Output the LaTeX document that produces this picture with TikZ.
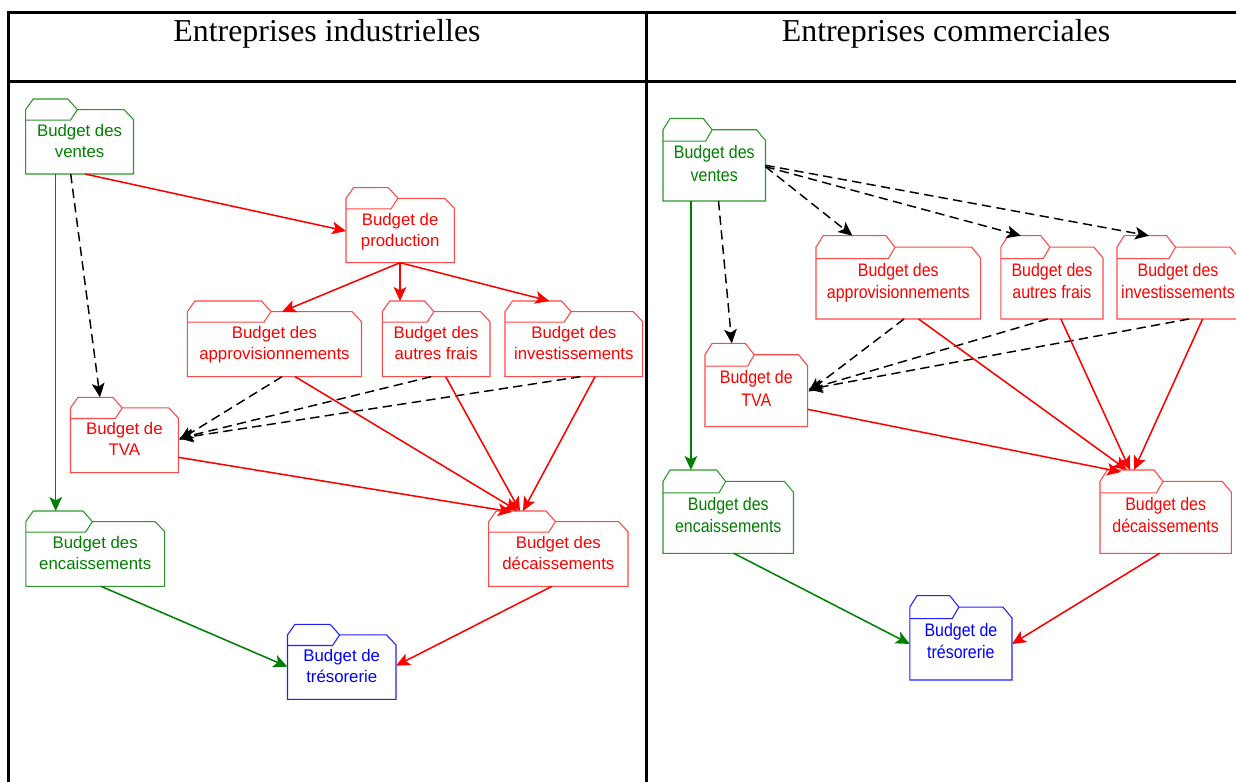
\documentclass[tikz,border=0pt]{standalone}
\usepackage{fontspec}
\setmainfont{Liberation Serif}
\newfontfamily\nodefont{Liberation Sans}
\usetikzlibrary{calc,arrows.meta}
\definecolor{redline}{HTML}{FF4848}
\definecolor{redtext}{HTML}{FF0000}
\definecolor{greenline}{HTML}{2E962E}
\definecolor{greentext}{HTML}{008000}
\definecolor{blueline}{HTML}{2020FF}
\definecolor{bluetext}{HTML}{0000FF}
\tikzset{
  box/.style={rectangle,inner sep=0pt,outer sep=0pt,draw=none},
  outline/.style={line width=0.8pt,line join=miter},
  lbl/.style={font=\nodefont\fontsize{12.6}{15.5}\selectfont,align=center,inner sep=0pt,anchor=base},
  head/.style={font=\fontsize{23.9}{28}\selectfont,inner sep=0pt,anchor=base},
  tip/.style={-{Stealth[length=10.5pt,width=9.5pt,inset=2.5pt]}},
  redarr/.style={tip,draw=redtext,fill=redtext,line width=1.15pt},
  greenarr/.style={tip,draw=greentext,line width=1.15pt},
  dasharr/.style={tip,draw=black,line width=1.1pt,dash pattern=on 7pt off 4pt},
  rule/.style={line width=2pt,draw=black},
}
\def\SX{1}\def\SY{1}
\newcommand\folder[7]{%
  \pgfmathsetmacro\fL{#2}\pgfmathsetmacro\fT{#3}\pgfmathsetmacro\fR{#4}\pgfmathsetmacro\fB{#5}%
  \pgfmathsetmacro\fX{\fL+0.48*(\fR-\fL)}%
  \pgfmathsetmacro\fBT{\fT+10.6*\SY}%
  \pgfmathsetmacro\fIL{\fT+21.2*\SY}%
  \pgfmathsetmacro\fW{(\fR-\fL)*0.75}\pgfmathsetmacro\fH{(\fB-\fT)*0.75}%
  \node[box,minimum width=\fW pt,minimum height=\fH pt] (#1) at ({(\fL+\fR)/2},{(\fT+\fB)/2}) {};
  \draw[outline,draw=#6line] (\fL,\fB) -- (\fL,\fBT) -- ({\fL+7.5*\SX},\fT) -- ({\fX-9.5*\SX},\fT) -- (\fX,\fBT) -- ({\fR-9.5*\SX},\fBT) -- (\fR,{\fBT+10*\SY}) -- (\fR,\fB) -- cycle;
  \draw[outline,draw=#6line] (\fL,\fIL) -- ({\fX-7*\SX},\fIL) -- (\fX,\fBT);
  \node[lbl,text=#6text,xscale=\SX,yscale=\SY,transform shape] (#1-t) at ({(\fL+\fR)/2},{\fIL+37.1*\SY}) {#7};
}
\begin{document}
\begin{tikzpicture}[x=0.75pt,y=-0.75pt]
\useasboundingbox (0,0) rectangle (1236,782);
\fill[white] (0,0) rectangle (1236,782);
% table
\draw[rule] (8.3,800) -- (8.3,12.3) -- (1250,12.3);
\draw[rule] (8.3,81.7) -- (1250,81.7);
\draw[rule] (646.5,12.3) -- (646.5,800);
\node[head] (h1) at (327,41.7) {Entreprises industrielles};
\node[head] (h2) at (946,41.7) {Entreprises commerciales};
% left panel
\folder{vL}{25.7}{99}{133.5}{174}{green}{Budget des\\ventes}
\folder{prodL}{346}{187.7}{454.3}{262.7}{red}{Budget de\\production}
\folder{apL}{187.4}{301}{361.5}{376.7}{red}{Budget des\\approvisionnements}
\folder{afL}{382.3}{301}{490}{376.7}{red}{Budget des\\autres frais}
\folder{inL}{505}{301}{642.6}{376.7}{red}{Budget des\\investissements}
\folder{tvaL}{70.5}{397.3}{178.3}{472.7}{red}{Budget de\\TVA}
\folder{encL}{25.8}{511}{164.6}{586.3}{green}{Budget des\\encaissements}
\folder{decL}{488.7}{511}{628}{586.3}{red}{Budget des\\décaissements}
\folder{trL}{287.5}{624.3}{396}{699.3}{blue}{Budget de\\trésorerie}
% right panel
\def\SX{0.95}\def\SY{1.08}
\folder{vR}{663}{118.3}{765.5}{201}{green}{Budget des\\ventes}
\folder{apR}{816}{235.7}{980.6}{319}{red}{Budget des\\approvisionnements}
\folder{afR}{1000.9}{235.7}{1103}{319}{red}{Budget des\\autres frais}
\folder{inR}{1117}{235.7}{1239}{319}{red}{Budget des\\investissements}
\folder{tvaR}{705}{343.3}{807.6}{426.7}{red}{Budget de\\TVA}
\folder{encR}{663}{470}{793.5}{553.3}{green}{Budget des\\encaissements}
\folder{decR}{1100}{470}{1231.3}{553.3}{red}{Budget des\\décaissements}
\folder{trR}{909.8}{595.7}{1012}{680}{blue}{Budget de\\trésorerie}
% left connectors
\draw[redarr] ($(vL.south west)+(59.3,0)$) -- ($(prodL.north west)+(0,43.3)$);
\draw[dasharr] ($(vL.south west)+(45,0)$) -- ($(tvaL.north west)+(29.5,0)$);
\draw[greenarr] ($(vL.south west)+(30,0)$) -- ($(encL.north west)+(29.9,0)$);
\draw[redarr] ($(prodL.south west)+(54,0)$) -- ($(apL.north west)+(94.6,10.7)$);
\draw[redarr] ($(prodL.south west)+(54,0)$) -- ($(afL.north west)+(17.7,0)$);
\draw[redarr] ($(prodL.south west)+(54,0)$) -- ($(inL.north west)+(44.3,0)$);
\draw[dasharr] ($(apL.south west)+(94.6,0)$) -- ($(tvaL.north east)+(1,42.7)$);
\draw[dasharr] ($(afL.south west)+(48.9,0)$) -- ($(tvaL.north east)+(1,41)$);
\draw[dasharr] ($(inL.south west)+(75.4,0)$) -- ($(tvaL.north east)+(1,41)$);
\draw[redarr] ($(apL.south west)+(107.8,0)$) -- ($(decL.north west)+(29.3,0)$);
\draw[redarr] ($(afL.south west)+(63.4,0)$) -- ($(decL.north west)+(31.3,0)$);
\draw[redarr] ($(inL.south west)+(90,0)$) -- ($(decL.north west)+(34.3,0)$);
\draw[redarr] ($(tvaL.north east)+(0,60)$) -- ($(decL.north west)+(23.3,1)$);
\draw[greenarr] ($(encL.south west)+(75.2,0)$) -- ($(trL.north west)+(0,42.4)$);
\draw[redarr] ($(decL.south west)+(63.3,0)$) -- ($(trL.north east)+(0,41.4)$);
% right connectors
\draw[dasharr] ($(vR.north east)+(0,48.4)$) -- ($(apR.north west)+(36.4,0)$);
\draw[dasharr] ($(vR.north east)+(0,48.4)$) -- ($(afR.north west)+(19.9,0)$);
\draw[dasharr] ($(vR.north east)+(0,47)$) -- ($(inR.north west)+(32,0)$);
\draw[dasharr] ($(vR.south west)+(55.5,0)$) -- ($(tvaR.north west)+(26.8,0)$);
\draw[greenarr] ($(vR.south west)+(27.9,0)$) -- ($(encR.north west)+(27.9,0)$);
\draw[dasharr] ($(apR.south west)+(88,0)$) -- ($(tvaR.north east)+(1,48.4)$);
\draw[dasharr] ($(afR.south west)+(46.7,0)$) -- ($(tvaR.north east)+(1,46)$);
\draw[dasharr] ($(inR.south west)+(72,0)$) -- ($(tvaR.north east)+(1,46)$);
\draw[redarr] ($(apR.south west)+(102.6,0)$) -- ($(decR.north west)+(27,0)$);
\draw[redarr] ($(afR.south west)+(60,0)$) -- ($(decR.north west)+(30,0)$);
\draw[redarr] ($(inR.south west)+(85.6,0)$) -- ($(decR.north west)+(34,0)$);
\draw[redarr] ($(tvaR.north east)+(0,66)$) -- ($(decR.north west)+(21,2)$);
\draw[greenarr] ($(encR.south west)+(70.8,0)$) -- ($(trR.north west)+(0,48.3)$);
\draw[redarr] ($(decR.south west)+(59.7,0)$) -- ($(trR.north east)+(0,48.3)$);
\end{tikzpicture}
\end{document}
